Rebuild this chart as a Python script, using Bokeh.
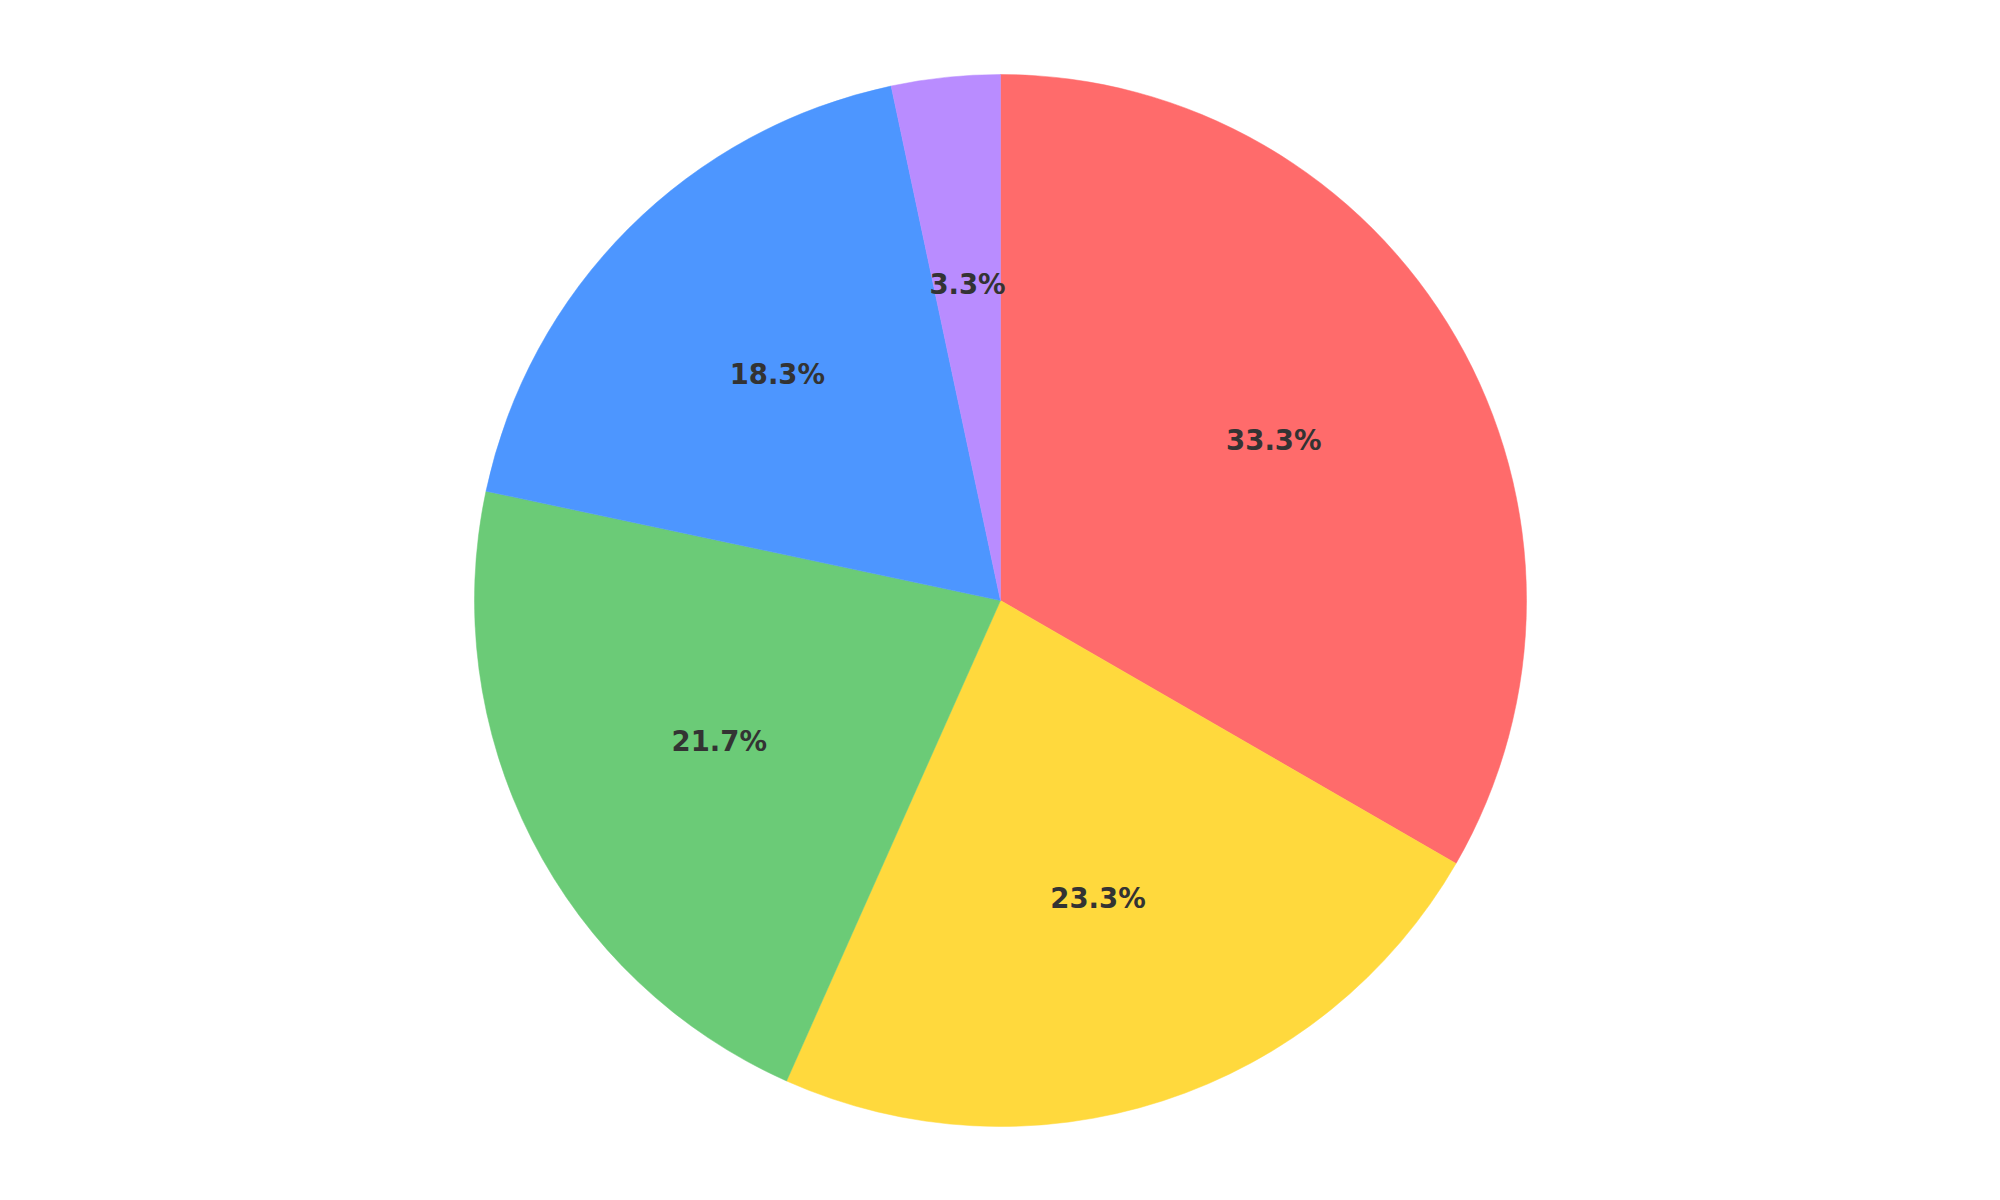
import math
from bokeh.plotting import figure
from bokeh.models import ColumnDataSource, Range1d
from bokeh.core.properties import value
from bokeh.embed import file_html
from bokeh.resources import INLINE

categories = ["A", "B", "C", "D", "E"]
values = [20, 14, 13, 11, 2]
colors = ["#FF6B6B", "#FFD93D", "#6BCB77", "#4D96FF", "#B98CFF"]

W, H = 1984, 1184
R = 526
total = sum(values)

starts, ends, lx, ly, labels = [], [], [], [], []
cum = 0.0
for v in values:
    a0 = math.pi / 2 - 2 * math.pi * cum / total
    cum += v
    a1 = math.pi / 2 - 2 * math.pi * cum / total
    starts.append(a0)
    ends.append(a1)
    mid = (a0 + a1) / 2
    lx.append(0.6 * R * math.cos(mid))
    ly.append(0.6 * R * math.sin(mid))
    labels.append(f"{100 * v / total:.1f}%")

src = ColumnDataSource(dict(cat=categories, start=starts, end=ends, color=colors,
                            lx=lx, ly=ly, label=labels))

p = figure(width=W, height=H, output_backend="svg", toolbar_location=None,
           x_range=Range1d(-1000, W - 1000), y_range=Range1d(-(H - 600), 600),
           min_border=0)
p.axis.visible = False
p.grid.visible = False
p.outline_line_color = None
p.background_fill_color = "white"

p.wedge(x=0, y=0, radius=R, start_angle="start", end_angle="end", direction="clock",
        fill_color="color", line_color="color", line_width=0.5, source=src)

p.text(x="lx", y="ly", text="label", source=src, text_align="center",
       text_baseline="middle", y_offset=-3, text_font=value("DejaVu Sans"),
       text_font_style="bold", text_font_size="27.5px", text_color="#333333")

open("out.html", "w").write(file_html(p, INLINE))
